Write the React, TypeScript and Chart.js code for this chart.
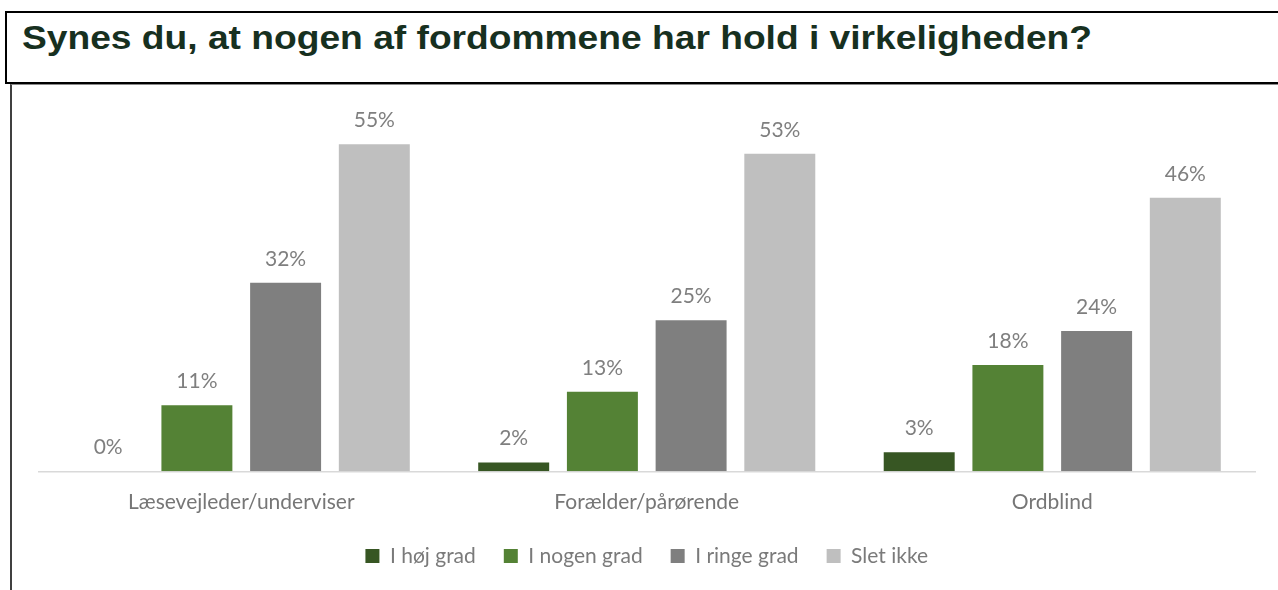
import React, { useEffect, useLayoutEffect, useRef } from "react";
import { Chart, registerables } from "chart.js";

Chart.register(...registerables);

const titleText = "Synes du, at nogen af fordommene har hold i virkeligheden?";
const categories = ["Læsevejleder/underviser", "Forælder/pårørende", "Ordblind"];
const seriesNames = ["I høj grad", "I nogen grad", "I ringe grad", "Slet ikke"];
const hojGrad = [0, 1.5, 3.2];
const nogenGrad = [11.1, 13.4, 17.9];
const ringeGrad = [31.7, 25.4, 23.6];
const sletIkke = [55, 53.4, 46];
const seriesColors = ["#375623", "#548235", "#7f7f7f", "#bfbfbf"];
const yMax = 60;

const barLabelPlugin = {
  id: "barLabels",
  afterDatasetsDraw(chart: any) {
    const ctx = chart.ctx;
    ctx.save();
    ctx.font = "21px Lato";
    ctx.fillStyle = "#7f7f7f";
    ctx.textAlign = "center";
    ctx.textBaseline = "alphabetic";
    chart.data.datasets.forEach((ds: any, i: number) => {
      const meta = chart.getDatasetMeta(i);
      meta.data.forEach((bar: any, j: number) => {
        const v = ds.data[j];
        ctx.fillText(Math.round(v) + "%", bar.x, bar.y - 17);
      });
    });
    ctx.restore();
  },
};

export default function App() {
  const canvasRef = useRef<HTMLCanvasElement | null>(null);
  const titleRef = useRef<HTMLDivElement | null>(null);

  useLayoutEffect(() => {
    const fit = () => {
      const el = titleRef.current;
      if (!el) return;
      el.style.transform = "none";
      const w = el.getBoundingClientRect().width;
      if (w > 0) el.style.transform = `scaleX(${1070 / w})`;
    };
    fit();
    if ((document as any).fonts && (document as any).fonts.ready) {
      (document as any).fonts.ready.then(fit);
    }
  }, []);

  useEffect(() => {
    if (!canvasRef.current) return;
    const all = [hojGrad, nogenGrad, ringeGrad, sletIkke];
    const chart = new Chart(canvasRef.current, {
      type: "bar",
      data: {
        labels: categories,
        datasets: all.map((d, i) => ({
          label: seriesNames[i],
          data: d,
          backgroundColor: seriesColors[i],
          borderWidth: 0,
          categoryPercentage: 0.875,
          barPercentage: 0.8,
        })),
      },
      options: {
        animation: false,
        responsive: false,
        maintainAspectRatio: false,
        layout: { padding: { left: 26.5, right: 23, top: 28.6, bottom: 13.5 } },
        plugins: {
          tooltip: { enabled: false },
          legend: {
            position: "bottom",
            labels: {
              boxWidth: 14,
              boxHeight: 14,
              padding: 28,
              color: "#7a7a7a",
              font: { family: "Lato", size: 21 },
            },
          },
        },
        scales: {
          x: {
            grid: { display: false, drawTicks: false },
            border: { display: true, color: "#d9d9d9", width: 1.5 },
            ticks: {
              color: "#767676",
              padding: 18,
              font: { family: "Lato", size: 21 },
            },
            afterFit: (scale: any) => {
              scale.height -= 15;
            },
          },
          y: {
            display: false,
            min: 0,
            max: yMax,
          },
        },
      },
      plugins: [barLabelPlugin],
    });
    return () => chart.destroy();
  }, []);

  return (
    <div
      style={{
        position: "absolute",
        left: 0,
        top: 0,
        width: 1278,
        height: 590,
        overflow: "hidden",
        background: "#fff",
      }}
    >
      <div
        style={{
          position: "absolute",
          left: 10,
          top: 84,
          width: 1300,
          height: 520,
          borderLeft: "2px solid #404040",
          borderTop: "1.5px solid #8a8a8a",
          boxSizing: "border-box",
        }}
      />
      <div
        style={{
          position: "absolute",
          left: 5,
          top: 11,
          width: 1300,
          height: 73,
          border: "2.5px solid #000",
          boxSizing: "border-box",
          background: "#fff",
        }}
      />
      <div
        ref={titleRef}
        style={{
          position: "absolute",
          left: 22,
          top: 20,
          whiteSpace: "nowrap",
          fontFamily: "'Liberation Sans', Arial, sans-serif",
          fontWeight: 700,
          fontSize: 34,
          lineHeight: "34px",
          color: "#17301f",
          transformOrigin: "left center",
        }}
      >
        {titleText}
      </div>
      <canvas
        ref={canvasRef}
        width={1266}
        height={504}
        style={{ position: "absolute", left: 12, top: 86, width: 1266, height: 504 }}
      />
    </div>
  );
}
